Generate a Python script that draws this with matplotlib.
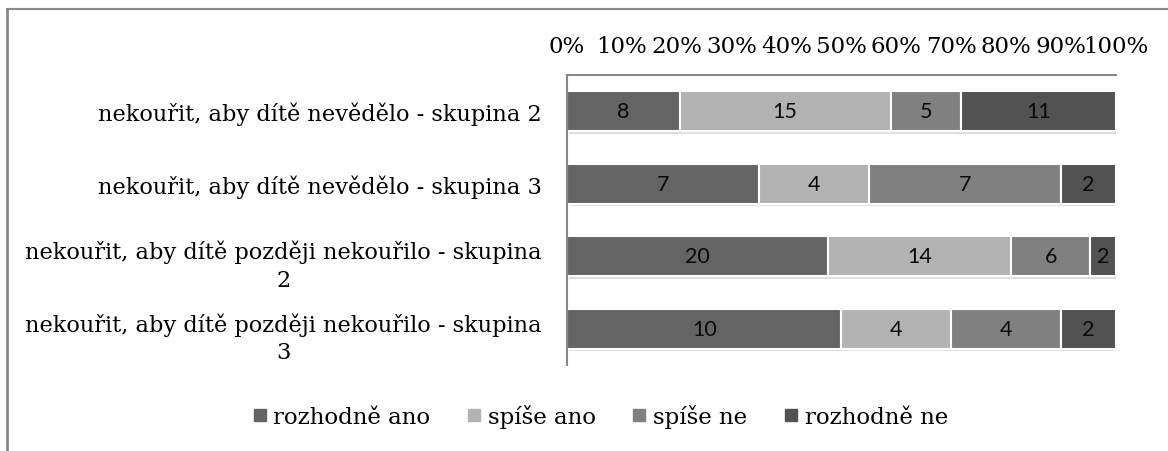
import matplotlib.pyplot as plt
import matplotlib.patheffects as pe
import matplotlib.transforms as mtrans
from matplotlib.lines import Line2D

categories = ["nekouřit, aby dítě nevědělo - skupina 2",
              "nekouřit, aby dítě nevědělo - skupina 3",
              "nekouřit, aby dítě později nekouřilo - skupina\n2",
              "nekouřit, aby dítě později nekouřilo - skupina\n3"]
series = ["rozhodně ano", "spíše ano", "spíše ne", "rozhodně ne"]
rozhodne_ano = [8, 7, 20, 10]
spise_ano = [15, 4, 14, 4]
spise_ne = [5, 7, 6, 4]
rozhodne_ne = [11, 2, 2, 2]
colors = ["#646464", "#b2b2b2", "#808080", "#525252"]

plt.rcParams['font.family'] = ['DejaVu Serif']

fig = plt.figure(figsize=(11.68, 4.52), dpi=100)
ax = fig.add_axes([0.4854, 0.1903, 0.4701, 0.6416])

values = [rozhodne_ano, spise_ano, spise_ne, rozhodne_ne]
totals = [sum(v[i] for v in values) for i in range(len(categories))]
ypos = list(range(len(categories)))
left = [0.0] * len(categories)
shadow = [pe.SimplePatchShadow(offset=(1.5, -2), alpha=0.15), pe.Normal()]
for name, vals, col in zip(series, values, colors):
    widths = [v / t for v, t in zip(vals, totals)]
    bars = ax.barh(ypos, widths, left=left, height=0.55, color=col,
                   edgecolor="white", linewidth=1.5, label=name)
    for b in bars:
        b.set_path_effects(shadow)
    for y, l, w, v in zip(ypos, left, widths, vals):
        ax.text(l + w / 2, y, str(v), ha="center", va="center",
                fontsize=15.5, color="#0a0a0a", family="Lato")
    left = [l + w for l, w in zip(left, widths)]

ax.set_xlim(0, 1)
ax.set_ylim(len(categories) - 0.5, -0.5)
ax.xaxis.tick_top()
ax.set_xticks([i / 10 for i in range(11)])
ax.set_xticklabels([f"{i * 10}%" for i in range(11)], fontsize=16.5)
ax.set_yticks(ypos)
ax.set_yticklabels(categories, fontsize=16.2, multialignment="center")
ax.tick_params(length=0, pad=18, axis="y")
ax.tick_params(length=0, pad=13, axis="x")
# wrapped labels sit a bit lower, with looser line spacing
for lab in ax.get_yticklabels():
    if "\n" in lab.get_text():
        lab.set_linespacing(1.3)
        lab.set_transform(lab.get_transform() +
                          mtrans.ScaledTranslation(0, -0.04, fig.dpi_scale_trans))
for s in ["right", "bottom"]:
    ax.spines[s].set_visible(False)
for s in ["left", "top"]:
    ax.spines[s].set_color("#888888")
    ax.spines[s].set_linewidth(1.5)

handles = [Line2D([], [], marker="s", linestyle="none", markersize=8,
                  markerfacecolor=c, markeredgecolor=c) for c in colors]
fig.legend(handles, series, loc="center", bbox_to_anchor=(0.514, 0.077),
           ncol=4, frameon=False, fontsize=16.5, handletextpad=0.3,
           columnspacing=1.6, handlelength=0.6)

fig.add_artist(Line2D([0.006, 0.006], [0, 0.978], color="#888888", lw=2,
                      transform=fig.transFigure))
fig.add_artist(Line2D([0.006, 1], [0.978, 0.978], color="#888888", lw=1.5,
                      transform=fig.transFigure))

fig.savefig("out.png", dpi=100)
